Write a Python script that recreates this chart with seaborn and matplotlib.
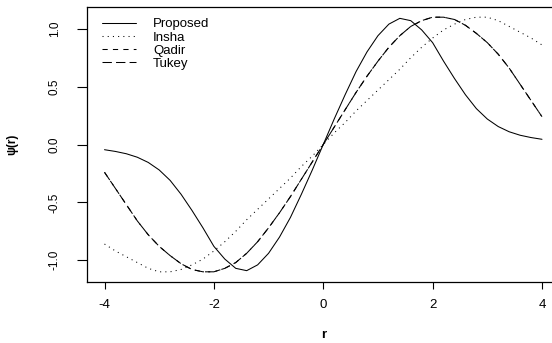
import matplotlib
matplotlib.use("Agg")
import matplotlib.pyplot as plt
import numpy as np
import seaborn as sns

# residual grid, step 0.2
r = np.round(np.arange(-4.0, 4.01, 0.2), 1)

proposed = [-0.045, -0.06, -0.08, -0.11, -0.155, -0.22, -0.31, -0.43, -0.57, -0.72,
            -0.88, -0.99, -1.07, -1.09, -1.04, -0.94, -0.80, -0.63, -0.43, -0.22,
            0.0,
            0.22, 0.43, 0.63, 0.80, 0.94, 1.04, 1.09, 1.07, 0.99, 0.88,
            0.72, 0.57, 0.43, 0.31, 0.22, 0.155, 0.11, 0.08, 0.06, 0.045]
insha = [-0.86, -0.92, -0.97, -1.02, -1.07, -1.10, -1.10, -1.08, -1.04, -0.99,
         -0.92, -0.84, -0.75, -0.65, -0.56, -0.47, -0.38, -0.29, -0.19, -0.10,
         0.0,
         0.10, 0.19, 0.29, 0.38, 0.47, 0.56, 0.65, 0.75, 0.84, 0.92,
         0.99, 1.04, 1.08, 1.10, 1.10, 1.07, 1.02, 0.97, 0.92, 0.86]
qadir = [-0.24, -0.38, -0.52, -0.66, -0.78, -0.88, -0.96, -1.03, -1.08, -1.10,
         -1.10, -1.07, -1.02, -0.94, -0.84, -0.72, -0.59, -0.45, -0.30, -0.15,
         0.0,
         0.15, 0.30, 0.45, 0.59, 0.72, 0.84, 0.94, 1.02, 1.07, 1.10,
         1.10, 1.08, 1.03, 0.96, 0.88, 0.78, 0.66, 0.52, 0.38, 0.24]
tukey = [-0.24, -0.38, -0.52, -0.66, -0.78, -0.88, -0.96, -1.03, -1.08, -1.10,
         -1.10, -1.07, -1.02, -0.94, -0.84, -0.72, -0.59, -0.45, -0.30, -0.15,
         0.0,
         0.15, 0.30, 0.45, 0.59, 0.72, 0.84, 0.94, 1.02, 1.07, 1.10,
         1.10, 1.08, 1.03, 0.96, 0.88, 0.78, 0.66, 0.52, 0.38, 0.24]

xticks = [-4, -2, 0, 2, 4]
yticks = [-1.0, -0.5, 0.0, 0.5, 1.0]
ytick_labels = ["-1.0", "-0.5", "0.0", "0.5", "1.0"]

sns.set_theme(style="white")
plt.rcParams["font.family"] = ["Liberation Sans", "DejaVu Sans"]
plt.rcParams["text.color"] = "black"
plt.rcParams["axes.labelcolor"] = "black"
plt.rcParams["xtick.color"] = "black"
plt.rcParams["ytick.color"] = "black"

W, H = 552, 343
fig = plt.figure(figsize=(W / 100, H / 100), dpi=100)
ax = fig.add_axes([87 / W, (H - 282) / H, (559.5 - 87) / W, (282 - 7) / H])

lw = 0.75
sns.lineplot(x=r, y=proposed, color="black", lw=lw, label="Proposed", ax=ax)
sns.lineplot(x=r, y=insha, color="black", lw=lw, linestyle=(0, (1, 4)), label="Insha", ax=ax)
sns.lineplot(x=r, y=qadir, color="black", lw=lw, linestyle=(0, (5, 5)), label="Qadir", ax=ax)
sns.lineplot(x=r, y=tukey, color="black", lw=lw, linestyle=(0, (9, 4)), label="Tukey", ax=ax)

ax.set_xlim(-4.32, 4.32)
ax.set_ylim(-1.188, 1.188)
ax.set_xticks(xticks)
ax.set_xticklabels([str(t) for t in xticks])
ax.set_yticks(yticks)
ax.set_yticklabels(ytick_labels, rotation=90, va="center")

for s in ax.spines.values():
    s.set_color("black")
    s.set_linewidth(0.9)

ax.tick_params(axis="x", length=5, width=0.8, labelsize=9.5, pad=7, bottom=True)
ax.tick_params(axis="y", length=7, width=0.8, labelsize=8.5, pad=12, left=True)

ax.set_xlabel("r", fontsize=9.5, fontweight="bold", labelpad=13)
ax.set_ylabel("ψ(r)", fontsize=8.5, fontweight="bold", labelpad=22)

ax.legend(loc="upper left", bbox_to_anchor=(0.032, 0.96), frameon=False,
          fontsize=9.5, handlelength=2.6, handletextpad=1.25, labelspacing=0.08,
          borderpad=0, borderaxespad=0)

fig.savefig("out.png", dpi=100)
